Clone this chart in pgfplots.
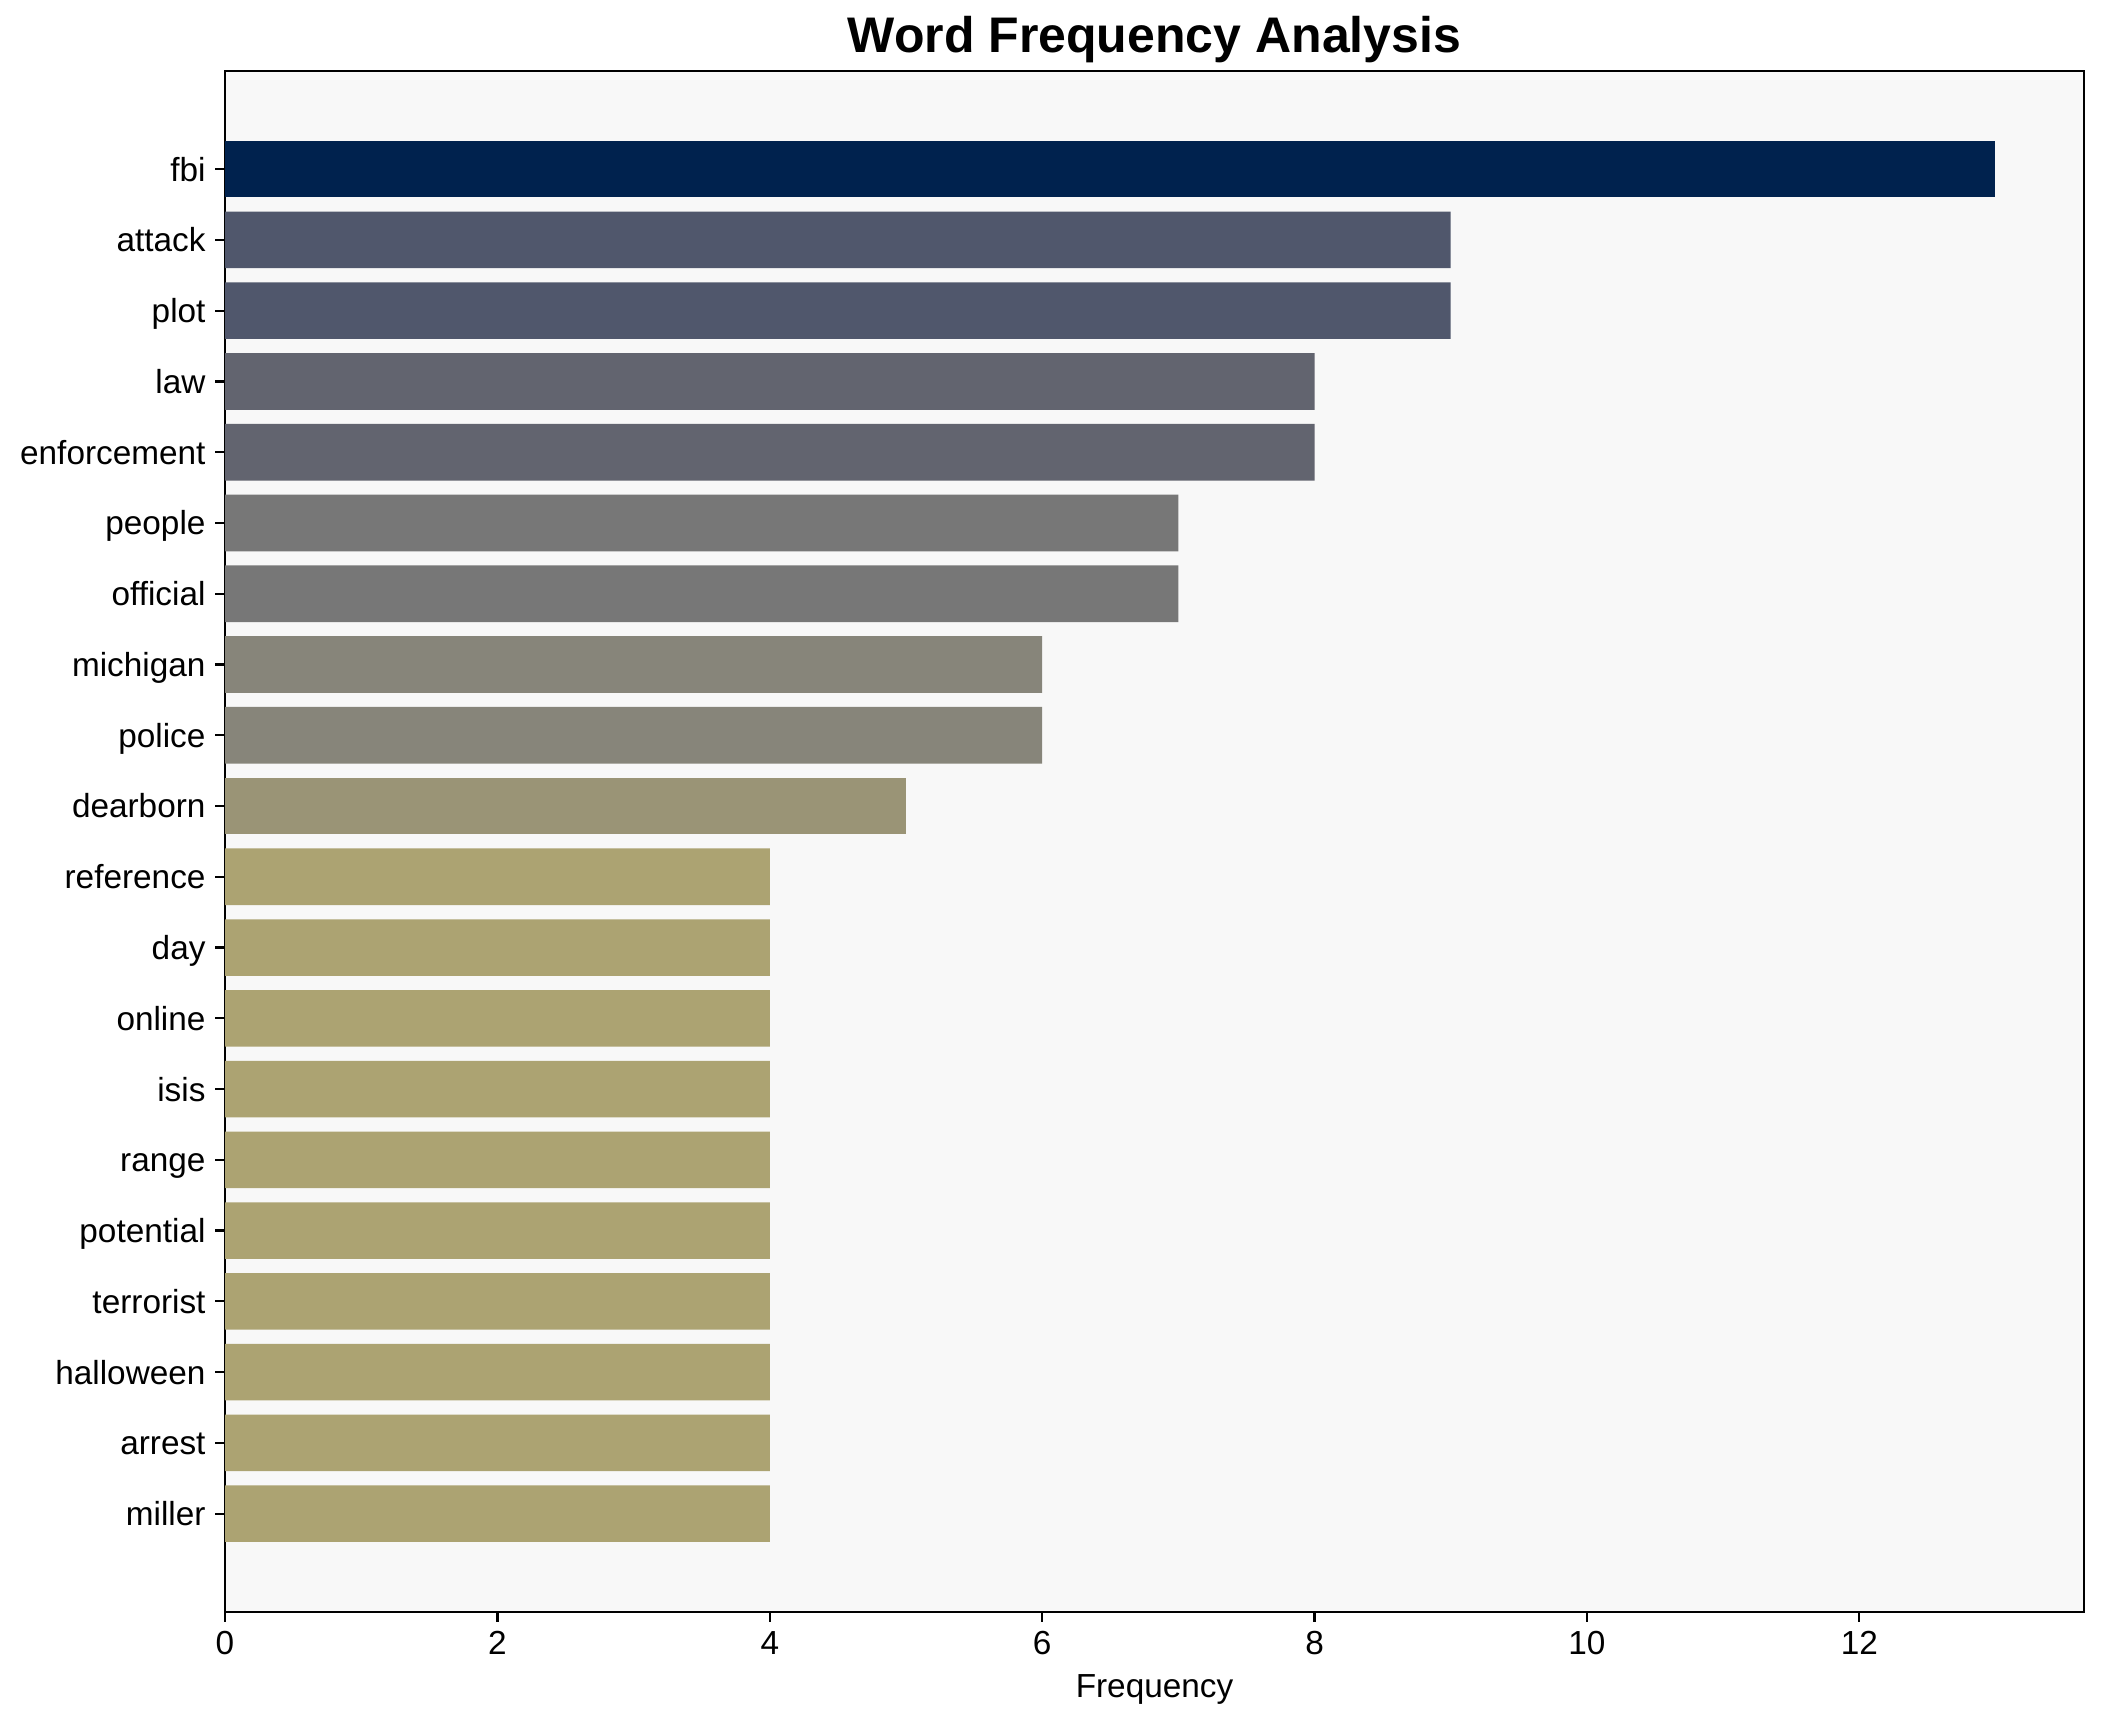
\documentclass[border=0pt]{standalone}
\usepackage{fontspec}
\setmainfont{Liberation Sans}
\usepackage{pgfplots}
\pgfplotsset{compat=1.18}
\definecolor{bg}{HTML}{F8F8F8}
\definecolor{c13}{HTML}{00224E}
\definecolor{c9}{HTML}{50576C}
\definecolor{c8}{HTML}{62646F}
\definecolor{c7}{HTML}{777777}
\definecolor{c6}{HTML}{87857A}
\definecolor{c5}{HTML}{9A9476}
\definecolor{c4}{HTML}{ACA372}
\begin{document}
\begin{tikzpicture}
\path (0,0) rectangle (757.4pt,619.9pt);
\begin{axis}[
  at={(81pt,39.6pt)}, anchor=south west,
  scale only axis, width=669.2pt, height=554.8pt,
  xmin=0, xmax=13.65, ymin=-1.39, ymax=20.39,
  xbar, bar shift=0pt, bar width=0.8,
  axis background/.style={fill=bg},
  axis line style={line width=0.8pt},
  tick align=outside, major tick length=3.5pt,
  tick style={line width=0.8pt, black},
  xtick={0,2,...,12}, ytick={0,...,19},
  yticklabels={miller,arrest,halloween,terrorist,potential,range,isis,online,day,reference,dearborn,police,michigan,official,people,enforcement,law,plot,attack,fbi},
  x axis line style={-}, xtick pos=bottom, ytick pos=left,
  /pgf/number format/assume math mode=true,
  xticklabel style={font=\fontsize{12}{14}\selectfont},
  yticklabel style={font=\fontsize{12}{14}\selectfont, anchor=base east, yshift=-4.3pt},
  xlabel={Frequency}, xlabel style={font=\fontsize{12}{14}\selectfont, inner sep=0pt, anchor=base, at={(0.5,0)}, yshift=-30.6pt},
  title={Word Frequency Analysis},
  title style={font=\fontsize{18}{21}\selectfont\bfseries, at={(0.5,1)}, anchor=base, inner sep=0pt, yshift=0.6pt},
  every axis plot/.append style={draw=none},
]
\addplot[fill=c13] coordinates {(13,19)};
\addplot[fill=c9] coordinates {(9,18) (9,17)};
\addplot[fill=c8] coordinates {(8,16) (8,15)};
\addplot[fill=c7] coordinates {(7,14) (7,13)};
\addplot[fill=c6] coordinates {(6,12) (6,11)};
\addplot[fill=c5] coordinates {(5,10)};
\addplot[fill=c4] coordinates {(4,9) (4,8) (4,7) (4,6) (4,5) (4,4) (4,3) (4,2) (4,1) (4,0)};
\end{axis}
\end{tikzpicture}
\end{document}
